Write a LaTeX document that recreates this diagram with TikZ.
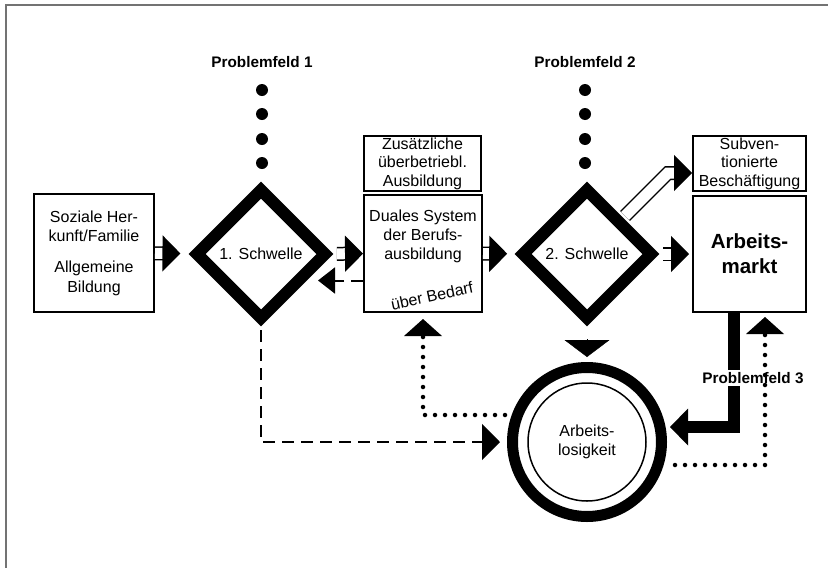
\documentclass[tikz,border=0pt]{standalone}
\usepackage{fontspec}
\setmainfont{Liberation Sans}
\usetikzlibrary{shapes.geometric,arrows.meta,calc,positioning}

\begin{document}
\begin{tikzpicture}[x=1pt, y=-1pt,
    txt/.style={font=\fontsize{16}{19}\selectfont, align=center},
    box/.style={draw, line width=2pt, inner sep=2pt, align=center, font=\fontsize{16}{18.5}\selectfont},
    schwelle/.style={diamond, draw, line width=12pt, aspect=1, inner sep=0pt,
        minimum width=135pt, minimum height=135pt, outer sep=8.5pt, font=\fontsize{16}{19}\selectfont},
    feld/.style={font=\bfseries\fontsize{15.3}{18}\selectfont},
    punkt/.style={circle, fill, inner sep=0pt, minimum size=12pt},
    zwei/.style={draw, line width=1.5pt, double=white, double distance=11pt,
        -{Triangle[length=18pt, width=36pt]}},
    strich/.style={line width=2pt, dash pattern=on 12pt off 7pt,
        -{Triangle[length=18pt, width=36pt]}},
    punkte/.style={line width=4.5pt, line cap=round, dash pattern=on 0pt off 10pt,
        -{Triangle[length=17pt, width=38pt, line width=0pt]}},
    dick/.style={line width=12pt, -{Triangle[length=18pt, width=37pt, line width=0pt]}},
    rahmen/.style={draw=black!55, line width=2pt},
]
    \useasboundingbox (0,0) rectangle (828,568);
    % Frame (top and left only)
    \draw[rahmen] (6,568) -- (6,5) -- (828,5);

    % Problemfelder 1 and 2
    \node[feld] (feld1) at (262,62) {Problemfeld 1};
    \node[feld] (feld2) at (585,62) {Problemfeld 2};
    \foreach \y [count=\i] in {90,114,139,163} {
        \node[punkt] (punktA\i) at (262,\y) {};
        \node[punkt] (punktB\i) at (585,\y) {};
    }

    % Boxes and thresholds
    \node[box, minimum width=120pt, minimum height=118pt, font=\fontsize{16}{19.5}\selectfont]
        (herkunft) at (94,253) {Soziale Her-\\kunft/Familie\\[11.5pt]Allgemeine\\Bildung};
    \node[schwelle] (schwelle1) at (261,254) {1. Schwelle};
    \node[box, minimum width=117pt, minimum height=55pt] (zusatz) at (422.5,163.5)
        {Zusätzliche\\überbetriebl.\\Ausbildung};
    \node[box, minimum width=118pt, minimum height=117pt] (duales) at (423,253.5) {};
    \node[txt, anchor=north, inner sep=0pt] (dualestxt) at ([yshift=-16pt]duales.north)
        {Duales System\\der Berufs-\\ausbildung};
    \node[txt, rotate=12] (bedarf) at (432,296) {über Bedarf};
    \node[schwelle] (schwelle2) at (587,254) {2. Schwelle};
    \node[box, minimum width=113pt, minimum height=55pt] (subv) at (749.5,163.5)
        {Subven-\\tionierte\\Beschäftigung};
    \node[box, minimum width=113pt, minimum height=116pt, font=\bfseries\fontsize{20.5}{25}\selectfont]
        (markt) at (749.5,254) {Arbeits-\\markt};

    % Arbeitslosigkeit
    \node[circle, draw, line width=11pt, minimum size=149pt, inner sep=0pt, outer sep=5.5pt, txt]
        (arbeitslos) at (587,442) {Arbeits-\\losigkeit};
    \draw[line width=1.5pt] (arbeitslos.center) circle[radius=59pt];

    % Double arrows
    \draw[zwei, shorten >=5pt] (herkunft) -- (schwelle1);
    \draw[zwei] (schwelle1) -- (duales);
    \draw[zwei, shorten >=4pt] (duales) -- (schwelle2);
    \draw[zwei, shorten >=3pt] (schwelle2) -- (markt);
    \draw[zwei] (schwelle2.north east) -- (668,173) -- ([yshift=-9.5pt]subv.west);

    % Dashed arrows
    \draw[strich, -{Triangle[length=17pt, width=26pt]}] ($(duales.west)+(0,27)$)
        -- ($(schwelle1.east |- duales.west)+(-19,27)$);
    \draw[strich, shorten >=7pt] (schwelle1.south) |- (arbeitslos.west);

    % Into Arbeitslosigkeit
    \draw[-{Triangle[length=17pt, width=45pt]}, shorten <=9pt, shorten >=5pt]
        (schwelle2.south) -- (arbeitslos.north);
    \draw[dick, shorten >=3pt] ([xshift=-15.5pt]markt.south) |- ($(arbeitslos.east)+(0,-15)$);
    \node[feld, fill=white, inner sep=2pt] (feld3) at (753,378) {Problemfeld 3};

    % Dotted arrows
    \draw[punkte, shorten >=4pt] ($(arbeitslos.east)+(8,23)$) -| ([xshift=15.5pt]markt.south);
    \draw[punkte, shorten >=6pt] ($(arbeitslos.west)+(-2,-27)$) -| (duales.south);
\end{tikzpicture}
\end{document}
